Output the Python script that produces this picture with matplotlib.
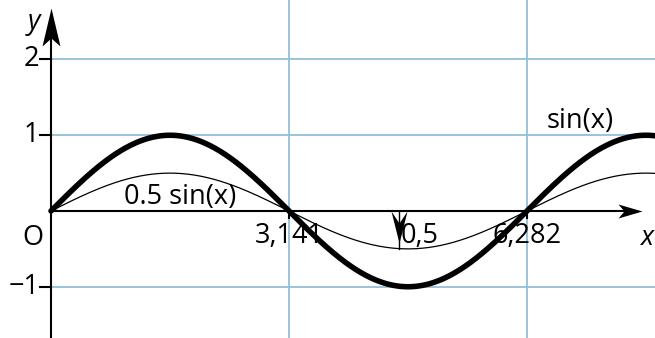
import numpy as np
import matplotlib
matplotlib.use("Agg")
import matplotlib.pyplot as plt
from matplotlib.path import Path

plt.rcParams['font.family'] = ['Open Sans', 'DejaVu Sans']

# ---- data ----
amplitudes = [1.0, 0.5]
curve_labels = ["sin(x)", "0.5 sin(x)"]
curve_widths = [4.0, 0.9]
x_max = 8.0
y_ticks = [2, 1, -1]
y_tick_labels = ["2", "1", "\u22121"]
x_ticks = [np.pi, 2 * np.pi]
x_tick_labels = ["3,141", "6,282"]
amp_mark_x = 4.6
amp_mark_label = "0,5"

FS = 19.5
W, H = 655, 338
fig = plt.figure(figsize=(W / 100, H / 100), dpi=100)
ax = fig.add_axes([0, 0, 1, 1])
ax.set_axis_off()

ppu = 75.76  # pixels per unit
x0px, y0px = 51, 211
ax.set_xlim(-x0px / ppu, (W - x0px) / ppu)
ax.set_ylim(-(H - y0px) / ppu, y0px / ppu)
xmin, xmax = ax.get_xlim()
ymin, ymax = ax.get_ylim()

grid_c = "#93c0d9"
# grid
for yt in y_ticks:
    ax.plot([0, xmax], [yt, yt], color=grid_c, lw=1.3, zorder=1)
for xt in x_ticks:
    ax.plot([xt, xt], [ymin, ymax], color=grid_c, lw=1.3, zorder=1)

# axes
x_tip = (642 - x0px) / ppu
y_tip = (y0px - 8) / ppu
ax.plot([0, x_tip - 0.2], [0, 0], color="black", lw=1.5, zorder=2)
ax.plot([0, 0], [ymin, y_tip - 0.3], color="black", lw=1.5, zorder=2)


def arrowhead(x, y, L, hw, notch, angle):
    # tip at origin pointing up, in pixel units
    verts = np.array([(0, 0), (hw, -L), (0, -notch), (-hw, -L), (0, 0)], float)
    th = np.deg2rad(angle)
    R = np.array([[np.cos(th), -np.sin(th)], [np.sin(th), np.cos(th)]])
    verts = verts @ R.T
    m = np.abs(verts).max()
    codes = [Path.MOVETO, Path.LINETO, Path.LINETO, Path.LINETO, Path.CLOSEPOLY]
    path = Path(verts, codes)
    ms = 2 * m * 0.72
    ax.plot([x], [y], marker=path, markersize=ms, color="black",
            markeredgewidth=0, zorder=5)


arrowhead(0, y_tip, 38, 9, 30, 0)
arrowhead(x_tip, 0, 24, 7, 18, -90)

# ticks
tick_len = 11 / ppu
for yt, lab in zip(y_ticks, y_tick_labels):
    ax.plot([-tick_len, 0], [yt, yt], color="black", lw=1.5, zorder=2)
    ax.text(-tick_len - 0.01, yt, lab, ha="right", va="center", fontsize=FS)
for xt, lab in zip(x_ticks, x_tick_labels):
    ax.plot([xt, xt], [0, -7 / ppu], color="black", lw=1.5, zorder=2)
    ax.text(xt, -25 / ppu, lab, ha="center", va="center", fontsize=FS)

# curves
xs = np.linspace(0, x_max, 600)
for a, lw in zip(amplitudes, curve_widths):
    ax.plot(xs, a * np.sin(xs), color="black", lw=lw, zorder=4,
            solid_capstyle="round")

# curve labels
ax.text((580 - x0px) / ppu, (y0px - 121) / ppu, curve_labels[0],
        ha="center", va="center", fontsize=FS)
ax.text((180 - x0px) / ppu, (y0px - 197) / ppu, curve_labels[1],
        ha="center", va="center", fontsize=FS)

# amplitude marker
ax.plot([amp_mark_x, amp_mark_x], [0, -amplitudes[1]], color="black", lw=1.0, zorder=3)
arrowhead(amp_mark_x, -32 / ppu, 32, 8, 20, 180)
ax.text(amp_mark_x + 0.01, -25 / ppu, amp_mark_label, ha="left", va="center", fontsize=FS)

# axis labels
ax.text(-18 / ppu, -27 / ppu, "O", ha="center", va="center", fontsize=FS)
ax.text(-17 / ppu, (y0px - 22) / ppu, "y", ha="center", va="center",
        fontsize=FS, style="italic")
ax.text((648 - x0px) / ppu, -27 / ppu, "x", ha="center", va="center",
        fontsize=FS, style="italic")

fig.savefig("out.png", dpi=100)
